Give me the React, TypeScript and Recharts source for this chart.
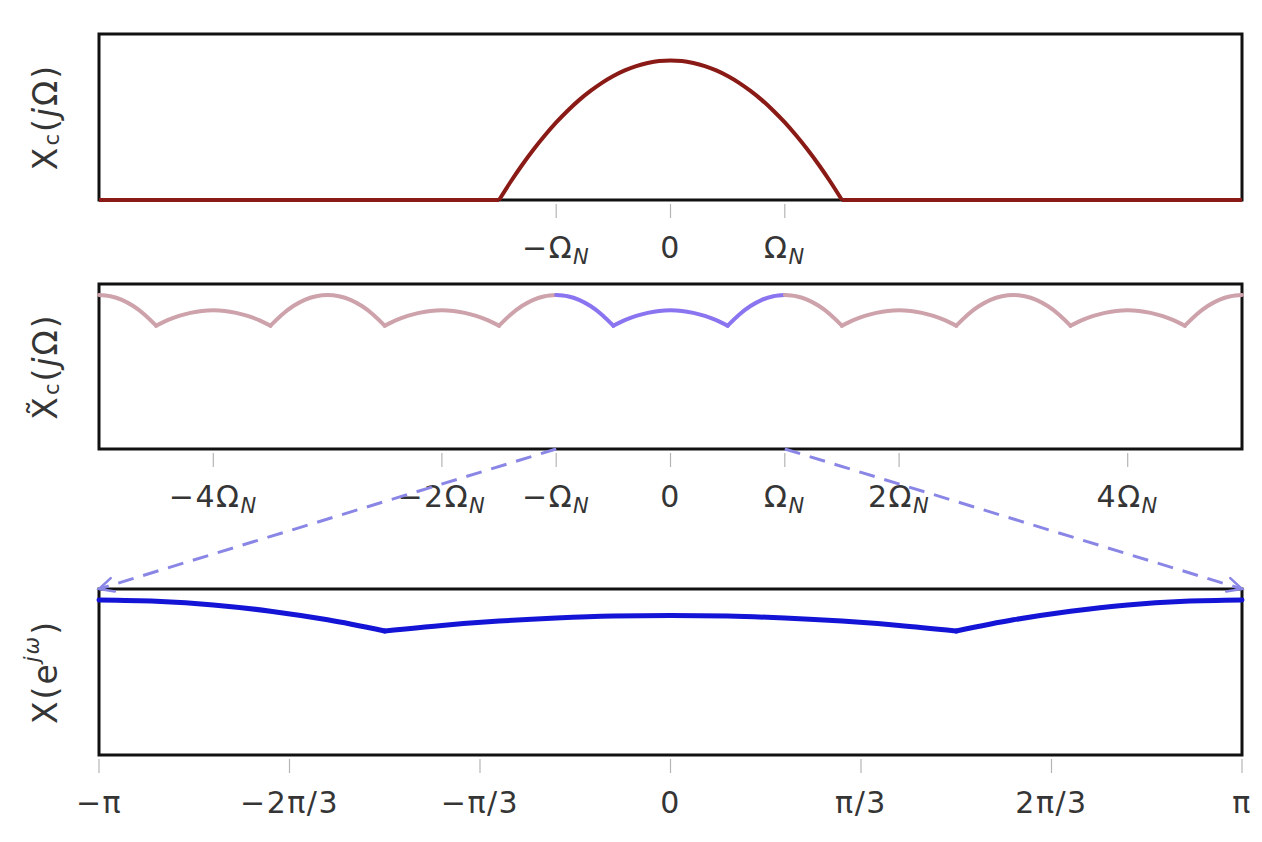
import React from 'react';
import { LineChart, Line, XAxis, YAxis, ReferenceArea } from 'recharts';

// ---------- data ----------
// Panel 1: continuous-time spectrum Xc(jΩ), Ω in units of Ω_N
const xcOmega = [-5, -1.5, -1.4, -1.3, -1.2, -1.1, -1, -0.9, -0.8, -0.7, -0.6, -0.5, -0.4, -0.3, -0.2, -0.1, 0, 0.1, 0.2, 0.3, 0.4, 0.5, 0.6, 0.7, 0.8, 0.9, 1, 1.1, 1.2, 1.3, 1.4, 1.5, 5];
const xcValues = [0, 0, 0.129, 0.249, 0.36, 0.462, 0.556, 0.64, 0.716, 0.782, 0.84, 0.889, 0.929, 0.96, 0.982, 0.996, 1.0, 0.996, 0.982, 0.96, 0.929, 0.889, 0.84, 0.782, 0.716, 0.64, 0.556, 0.462, 0.36, 0.249, 0.129, 0, 0];
const xcBreaks = [-1.5, 1.5];
const xcTicks = [-1, 0, 1];
const xcTickLabels = ['−Ω_N', '0', 'Ω_N'];

// Panel 2: periodized spectrum X̃c(jΩ)
const xtOmega = [
  -5, -4.9, -4.8, -4.7, -4.6, -4.5, -4.4, -4.3, -4.2, -4.1,
  -4, -3.9, -3.8, -3.7, -3.6, -3.5, -3.4, -3.3, -3.2, -3.1,
  -3, -2.9, -2.8, -2.7, -2.6, -2.5, -2.4, -2.3, -2.2, -2.1,
  -2, -1.9, -1.8, -1.7, -1.6, -1.5, -1.4, -1.3, -1.2, -1.1,
  -1, -0.9, -0.8, -0.7, -0.6, -0.5, -0.4, -0.3, -0.2, -0.1,
  0, 0.1, 0.2, 0.3, 0.4, 0.5, 0.6, 0.7, 0.8, 0.9,
  1, 1.1, 1.2, 1.3, 1.4, 1.5, 1.6, 1.7, 1.8, 1.9,
  2, 2.1, 2.2, 2.3, 2.4, 2.5, 2.6, 2.7, 2.8, 2.9,
  3, 3.1, 3.2, 3.3, 3.4, 3.5, 3.6, 3.7, 3.8, 3.9,
  4, 4.1, 4.2, 4.3, 4.4, 4.5, 4.6, 4.7, 4.8, 4.9,
  5,
];
const xtValues = [
  1.111, 1.102, 1.076, 1.031, 0.969, 0.889, 0.929, 0.96, 0.982, 0.996,
  1.0, 0.996, 0.982, 0.96, 0.929, 0.889, 0.969, 1.031, 1.076, 1.102,
  1.111, 1.102, 1.076, 1.031, 0.969, 0.889, 0.929, 0.96, 0.982, 0.996,
  1.0, 0.996, 0.982, 0.96, 0.929, 0.889, 0.969, 1.031, 1.076, 1.102,
  1.111, 1.102, 1.076, 1.031, 0.969, 0.889, 0.929, 0.96, 0.982, 0.996,
  1.0, 0.996, 0.982, 0.96, 0.929, 0.889, 0.969, 1.031, 1.076, 1.102,
  1.111, 1.102, 1.076, 1.031, 0.969, 0.889, 0.929, 0.96, 0.982, 0.996,
  1.0, 0.996, 0.982, 0.96, 0.929, 0.889, 0.969, 1.031, 1.076, 1.102,
  1.111, 1.102, 1.076, 1.031, 0.969, 0.889, 0.929, 0.96, 0.982, 0.996,
  1.0, 0.996, 0.982, 0.96, 0.929, 0.889, 0.969, 1.031, 1.076, 1.102,
  1.111,
];
const xtKinks = [-4.5, -3.5, -2.5, -1.5, -1, -0.5, 0.5, 1, 1.5, 2.5, 3.5, 4.5];
const xtBand = [-1, 1];
const xtTicks = [-4, -2, -1, 0, 1, 2, 4];
const xtTickLabels = ['−4Ω_N', '−2Ω_N', '−Ω_N', '0', 'Ω_N', '2Ω_N', '4Ω_N'];

// Panel 3: DTFT X(e^{jω}), ω in units of π
const dtftOmega = [-1, -0.9, -0.8, -0.7, -0.6, -0.5, -0.4, -0.3, -0.2, -0.1, 0, 0.1, 0.2, 0.3, 0.4, 0.5, 0.6, 0.7, 0.8, 0.9, 1];
const dtftValues = [1.111, 1.102, 1.076, 1.031, 0.969, 0.889, 0.929, 0.96, 0.982, 0.996, 1.0, 0.996, 0.982, 0.96, 0.929, 0.889, 0.969, 1.031, 1.076, 1.102, 1.111];
const dtftKinks = [-0.5, 0.5];
const dtftTicks = [-1, -2 / 3, -1 / 3, 0, 1 / 3, 2 / 3, 1];
const dtftTickLabels = ['−π', '−2π/3', '−π/3', '0', 'π/3', '2π/3', 'π'];

// Zoom arrows: from band edge (Ω/Ω_N) to full-axis edge
const zoomFrom = [-1, 1];
const zoomTo = [-5, 5];

// ---------- layout / style ----------
const W = 1262;
const H = 842;
const PLOT_LEFT = 99;
const PLOT_RIGHT = 1242;
const Y_MAX = 1.19;
const FONT = '"DejaVu Sans", "Liberation Sans", Arial, sans-serif';
const TEXT_COLOR = '#353535';
const ARROW_COLOR = '#8a86e6';

type Pt = { x: number; y: number };
const zip = (xs: number[], ys: number[]): Pt[] => xs.map((x, i) => ({ x, y: ys[i] }));

// split a series into smooth pieces at the given break positions
function splitAt(data: Pt[], breaks: number[]): Pt[][] {
  const lo = data[0].x;
  const hi = data[data.length - 1].x;
  const bounds = [lo, ...breaks, hi];
  const out: Pt[][] = [];
  for (let i = 0; i < bounds.length - 1; i++) {
    const a = bounds[i] - 1e-9;
    const b = bounds[i + 1] + 1e-9;
    out.push(data.filter((d) => d.x >= a && d.x <= b));
  }
  return out;
}

const xcPieces = splitAt(zip(xcOmega, xcValues), xcBreaks);
const xtPieces = splitAt(zip(xtOmega, xtValues), xtKinks);
const dtftPieces = splitAt(zip(dtftOmega, dtftValues), dtftKinks);
const leftArrow = [{ x: zoomFrom[0], y: 1 }, { x: zoomTo[0], y: 0 }];
const rightArrow = [{ x: zoomFrom[1], y: 1 }, { x: zoomTo[1], y: 0 }];

const inBand = (p: Pt[]) => {
  const mid = (p[0].x + p[p.length - 1].x) / 2;
  return mid > xtBand[0] && mid < xtBand[1];
};

function renderLabelText(label: string) {
  const [main, sub] = label.split('_');
  return (
    <>
      <tspan>{main}</tspan>
      {sub ? (
        <tspan fontSize={21} fontStyle="italic" dy={6}>
          {sub}
        </tspan>
      ) : null}
    </>
  );
}

function makeTick(ticks: number[], labels: string[]) {
  return (props: any) => {
    const { x, y, payload, index } = props;
    let i = ticks.indexOf(payload.value);
    if (i < 0) i = index;
    return (
      <g key={`t-${i}`}>
        <line x1={x} x2={x} y1={y + 4} y2={y + 18} stroke="#b5b5b5" strokeWidth={1.2} />
        <text
          x={x}
          y={y + 58}
          textAnchor="middle"
          fontSize={30}
          letterSpacing={1.5}
          fontFamily={FONT}
          fill={TEXT_COLOR}
        >
          {renderLabelText(labels[i] ?? '')}
        </text>
      </g>
    );
  };
}

function YLabel(props: any) {
  const { viewBox, kind } = props;
  const vb = viewBox || { x: 0, y: 0, width: PLOT_LEFT, height: 100 };
  const cx = vb.x + vb.width * 0.45;
  const cy = vb.y + vb.height / 2;
  let content: React.ReactNode = null;
  if (kind === 'xc' || kind === 'xt') {
    content = (
      <>
        <tspan>{kind === 'xt' ? 'X\u0303' : 'X'}</tspan>
        <tspan fontSize={21} dy={7}>c</tspan>
        <tspan dy={-7}>(</tspan>
        <tspan fontStyle="italic">j</tspan>
        <tspan>Ω)</tspan>
      </>
    );
  } else {
    content = (
      <>
        <tspan>X(e</tspan>
        <tspan fontSize={21} fontStyle="italic" dy={-13}>jω</tspan>
        <tspan dy={13}>)</tspan>
      </>
    );
  }
  return (
    <text
      x={cx}
      y={cy}
      transform={`rotate(-90, ${cx}, ${cy})`}
      textAnchor="middle"
      dominantBaseline="central"
      fontSize={33}
      letterSpacing={2}
      fontFamily={FONT}
      fill={TEXT_COLOR}
    >
      {content}
    </text>
  );
}

interface PanelProps {
  top: number;
  height: number;
  plotTop: number;
  plotBottom: number;
  xDomain: [number, number];
  ticks: number[];
  tickLabels: string[];
  yKind: string;
  children: React.ReactNode;
}

function Panel({ top, height, plotTop, plotBottom, xDomain, ticks, tickLabels, yKind, children }: PanelProps) {
  return (
    <div style={{ position: 'absolute', left: 0, top, width: W, height }}>
      <LineChart
        width={W}
        height={height}
        margin={{ top: plotTop - top, right: W - PLOT_RIGHT, bottom: 0, left: 0 }}
      >
        <XAxis
          type="number"
          dataKey="x"
          domain={xDomain}
          ticks={ticks}
          interval={0}
          height={top + height - plotBottom}
          axisLine={false}
          tickLine={false}
          tickSize={0}
          tickMargin={0}
          tick={makeTick(ticks, tickLabels)}
        />
        <YAxis
          type="number"
          domain={[0, Y_MAX]}
          width={PLOT_LEFT}
          tick={false}
          axisLine={false}
          tickLine={false}
          label={<YLabel kind={yKind} />}
        />
        <ReferenceArea
          x1={xDomain[0]}
          x2={xDomain[1]}
          y1={0}
          y2={Y_MAX}
          fill="none"
          fillOpacity={0}
          stroke="#111"
          strokeWidth={3}
          ifOverflow="visible"
        />
        {children}
      </LineChart>
    </div>
  );
}

function makeArrowDot(color: string) {
  let prev: { cx: number; cy: number } | null = null;
  return (props: any) => {
    const { cx, cy, index } = props;
    if (index === 0 || !prev) {
      prev = { cx, cy };
      return <g key={`ad-${index}`} />;
    }
    const ang = Math.atan2(cy - prev.cy, cx - prev.cx);
    const L = 16;
    const s = 0.45;
    const ax = cx - L * Math.cos(ang - s);
    const ay = cy - L * Math.sin(ang - s);
    const bx = cx - L * Math.cos(ang + s);
    const by = cy - L * Math.sin(ang + s);
    return (
      <path
        key={`ad-${index}`}
        d={`M${ax},${ay}L${cx},${cy}L${bx},${by}`}
        fill="none"
        stroke={color}
        strokeWidth={2.5}
        strokeLinecap="round"
      />
    );
  };
}

export default function App() {
  return (
    <div style={{ position: 'absolute', left: 0, top: 0, width: W, height: H, background: '#fff', overflow: 'hidden' }}>
      <Panel top={0} height={272} plotTop={34} plotBottom={200} xDomain={[-5, 5]} ticks={xcTicks} tickLabels={xcTickLabels} yKind="xc">
        {xcPieces.map((p, i) => (
          <Line key={`xc${i}`} data={p} dataKey="y" type="monotone" stroke="#8a1a16" strokeWidth={4} dot={false} isAnimationActive={false} />
        ))}
      </Panel>
      <Panel top={272} height={268} plotTop={284} plotBottom={449} xDomain={[-5, 5]} ticks={xtTicks} tickLabels={xtTickLabels} yKind="xt">
        {xtPieces.map((p, i) => (
          <Line
            key={`xt${i}`}
            data={p}
            dataKey="y"
            type="monotone"
            stroke={inBand(p) ? '#8a74f0' : '#cda2ab'}
            strokeWidth={4}
            strokeLinecap="round"
            dot={false}
            isAnimationActive={false}
          />
        ))}
      </Panel>
      <Panel top={540} height={302} plotTop={589} plotBottom={755} xDomain={[-1, 1]} ticks={dtftTicks} tickLabels={dtftTickLabels} yKind="dtft">
        {dtftPieces.map((p, i) => (
          <Line key={`dt${i}`} data={p} dataKey="y" type="monotone" stroke="#1414d6" strokeWidth={5} strokeLinecap="round" dot={false} isAnimationActive={false} />
        ))}
      </Panel>
      <div style={{ position: 'absolute', left: 0, top: 440, width: W, height: 160, pointerEvents: 'none' }}>
        <LineChart width={W} height={160} margin={{ top: 9, right: W - PLOT_RIGHT, bottom: 11, left: PLOT_LEFT }}>
          <XAxis type="number" dataKey="x" domain={[-5, 5]} hide />
          <YAxis type="number" domain={[0, 1]} hide />
          <Line data={leftArrow} dataKey="y" type="linear" stroke={ARROW_COLOR} strokeWidth={3} strokeDasharray="16 10" dot={makeArrowDot(ARROW_COLOR)} isAnimationActive={false} />
          <Line data={rightArrow} dataKey="y" type="linear" stroke={ARROW_COLOR} strokeWidth={3} strokeDasharray="16 10" dot={makeArrowDot(ARROW_COLOR)} isAnimationActive={false} />
        </LineChart>
      </div>
    </div>
  );
}
